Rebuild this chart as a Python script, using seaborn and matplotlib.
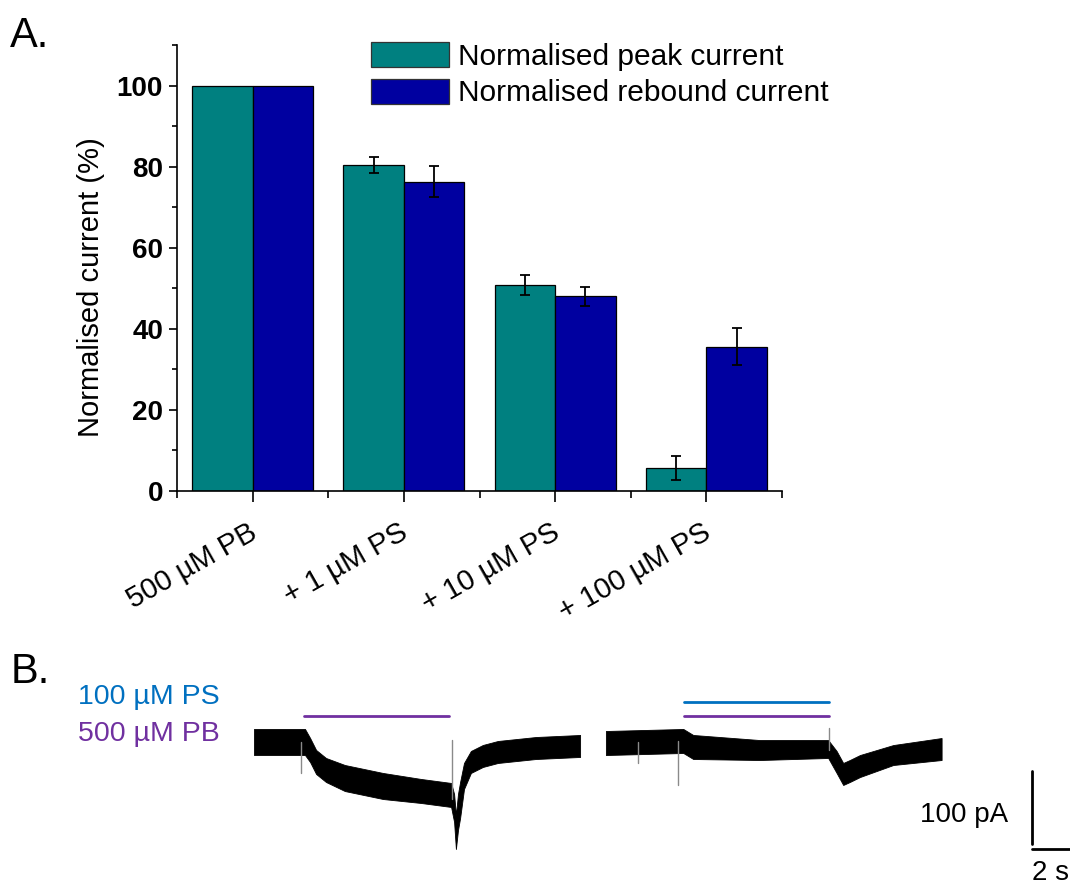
import numpy as np
import pandas as pd
import matplotlib
matplotlib.use("Agg")
import matplotlib.pyplot as plt
import matplotlib.transforms as mtransforms
from matplotlib.patches import Patch
from matplotlib.ticker import FixedLocator
import seaborn as sns

# ---------------- Panel A data ----------------
conditions = ["500 µM PB", "+ 1 µM PS", "+ 10 µM PS", "+ 100 µM PS"]
series = ["Normalised peak current", "Normalised rebound current"]
peak_mean = [100.0, 80.3, 50.7, 5.6]
peak_sem = [0.0, 2.0, 2.5, 2.9]
rebound_mean = [100.0, 76.3, 48.0, 35.5]
rebound_sem = [0.0, 3.9, 2.3, 4.6]
bar_colors = ["#008080", "#0000A0"]

# ---------------- Panel B data ----------------
# control trace, 500 µM PB alone: time (s), mean current (pA), noise half-amplitude (pA)
ctrl_t = [0.0, 1.70, 1.87, 2.07, 2.40, 3.03, 4.30, 5.57, 6.57, 6.67, 6.73,
          6.80, 6.87, 7.00, 7.23, 7.63, 8.13, 9.40, 10.87]
ctrl_i = [0.0, 0.0, -10.3, -25.6, -35.9, -46.2, -56.4, -62.8, -67.9, -84.6,
          -115.4, -89.7, -74.4, -43.6, -25.6, -17.9, -12.8, -7.7, -5.1]
ctrl_noise = [16.7, 16.7, 15.4, 15.4, 15.4, 16.7, 16.7, 15.4, 15.4, 17.9,
              21.8, 23.1, 23.1, 16.7, 14.1, 14.1, 14.1, 14.1, 14.1]
ctrl_spike_t = [1.57, 6.60]
ctrl_spike_i = [-39.7, 2.6]

# test trace, 500 µM PB + 100 µM PS
test_t = [0.0, 2.58, 2.91, 5.13, 7.41, 7.69, 7.91, 8.13, 8.47, 9.58, 11.19]
test_i = [-1.3, 1.3, -6.4, -10.3, -9.0, -25.6, -41.0, -37.2, -30.8, -16.7, -9.0]
test_noise = [15.4, 15.4, 15.4, 12.8, 11.5, 14.1, 14.1, 14.1, 14.1, 12.8, 14.1]
test_spike_t = [1.07, 2.40, 7.43]
test_spike_i = [-26.9, -55.1, 17.9]
test_offset = 11.73          # gap between the two sweeps on the time axis (s)

ctrl_pb_on = (1.67, 6.50)
test_drug_on = (2.60, 7.43)
scale_pA = 100
scale_s = 2

# ---------------- style ----------------
sns.set_style("ticks")
plt.rcParams["font.family"] = ["Liberation Sans", "DejaVu Sans"]
plt.rcParams.update({
    "axes.linewidth": 1.2,
    "axes.edgecolor": "black",
    "axes.labelcolor": "black",
    "text.color": "black",
    "xtick.color": "black",
    "ytick.color": "black",
})

fig = plt.figure(figsize=(10.7, 8.88), dpi=100)

# ---------------- Panel A: grouped bars ----------------
W, H = 1070.0, 888.0
axA = fig.add_axes([177 / W, 1 - 490.7 / H, 605 / W, 445.7 / H])

df = pd.DataFrame({
    "condition": conditions * 2,
    "series": [series[0]] * 4 + [series[1]] * 4,
    "value": peak_mean + rebound_mean,
})
sns.barplot(data=df, x="condition", y="value", hue="series", order=conditions,
            hue_order=series, palette=bar_colors, width=0.8, errorbar=None,
            edgecolor="black", linewidth=0.9, saturation=1, legend=False, ax=axA)

for cont, means, errs in zip(axA.containers, [peak_mean, rebound_mean],
                             [peak_sem, rebound_sem]):
    for bar, m, e in zip(cont, means, errs):
        if e > 0:
            cx = bar.get_x() + bar.get_width() / 2
            axA.errorbar(cx, m, yerr=e, fmt="none", ecolor="black",
                         elinewidth=1.3, capsize=3.5, capthick=1.3, zorder=5)

axA.set_xlim(-0.5, 3.5)
axA.set_ylim(0, 110)
axA.yaxis.set_major_locator(FixedLocator([0, 20, 40, 60, 80, 100]))
axA.yaxis.set_minor_locator(FixedLocator([10, 30, 50, 70, 90, 110]))
axA.xaxis.set_minor_locator(FixedLocator([-0.5, 0.5, 1.5, 2.5, 3.5]))
sns.despine(ax=axA)
axA.tick_params(axis="y", which="major", length=6, width=1.2, pad=4, labelsize=20)
axA.tick_params(axis="y", which="minor", length=3.5, width=1.2)
axA.tick_params(axis="x", which="major", length=8, width=1.2, pad=12, labelsize=21)
axA.tick_params(axis="x", which="minor", length=5, width=1.2)
axA.set_xticks(range(len(conditions)))
axA.set_xticklabels(conditions, rotation=29.5, ha="right", rotation_mode="anchor")
shift = mtransforms.ScaledTranslation(-0.05, 0, fig.dpi_scale_trans)
for lab in axA.get_xticklabels():
    lab.set_transform(lab.get_transform() + shift)
for lab in axA.get_yticklabels():
    lab.set_fontweight("bold")
axA.set_xlabel("")
axA.set_ylabel("Normalised current (%)", fontsize=21)
axA.yaxis.set_label_coords(-0.119, 0.456)

handles = [Patch(facecolor=c, edgecolor="#333333", linewidth=0.9) for c in bar_colors]
fig.legend(handles, series, loc="upper left", bbox_to_anchor=(371 / W, 1 - 42 / H),
           frameon=False, fontsize=21.5, handlelength=2.6, handleheight=0.9,
           handletextpad=0.3, labelspacing=0.27, borderpad=0, borderaxespad=0)

fig.text(10 / W, 1 - 47 / H, "A.", fontsize=30, va="baseline")

# ---------------- Panel B: current traces ----------------
px_per_s = 30.0
px_per_pA = 0.78
axB = fig.add_axes([0, 0, 1, 248 / H])
axB.set_xlim(-254 / px_per_s, (W - 254) / px_per_s)
axB.set_ylim((742 - 888) / px_per_pA, (742 - 640) / px_per_pA)
axB.axis("off")

def draw_sweep(t, i, noise, spk_t, spk_i, t0):
    t = np.asarray(t) + t0
    i = np.asarray(i)
    n = np.asarray(noise)
    axB.fill_between(t, i - n, i + n, color="black", linewidth=0.6,
                     edgecolor="black")
    for st, si in zip(spk_t, spk_i):
        base = np.interp(st + t0, t, i)
        axB.plot([st + t0, st + t0], [base, si], color="#8a8a8a", lw=1.0)

draw_sweep(ctrl_t, ctrl_i, ctrl_noise, ctrl_spike_t, ctrl_spike_i, 0.0)
draw_sweep(test_t, test_i, test_noise, test_spike_t, test_spike_i, test_offset)

ps_color = "#0070C0"
pb_color = "#7030A0"
pb_level, ps_level = 33.3, 51.3
axB.plot(ctrl_pb_on, [pb_level, pb_level], color=pb_color, lw=2)
axB.plot(np.asarray(test_drug_on) + test_offset, [pb_level, pb_level], color=pb_color, lw=2)
axB.plot(np.asarray(test_drug_on) + test_offset, [ps_level, ps_level], color=ps_color, lw=2)

# scale bars
sb_x, sb_y = 25.93, -137.2
axB.plot([sb_x, sb_x], [sb_y + 6, sb_y + scale_pA], color="black", lw=2)
axB.plot([sb_x, sb_x + scale_s], [sb_y, sb_y], color="black", lw=2)
axB.text(sb_x - 0.8, -94, f"{scale_pA} pA", fontsize=20, ha="right", va="center")
axB.text(sb_x, sb_y - 14, f"{scale_s} s", fontsize=20, ha="left", va="top")

fig.text(11 / W, 1 - 683 / H, "B.", fontsize=30, va="baseline")
fig.text(78 / W, 1 - 704 / H, "100 µM PS", fontsize=20.5, color=ps_color, va="baseline")
fig.text(78 / W, 1 - 741 / H, "500 µM PB", fontsize=20.5, color=pb_color, va="baseline")

fig.savefig("out.png", dpi=100)
